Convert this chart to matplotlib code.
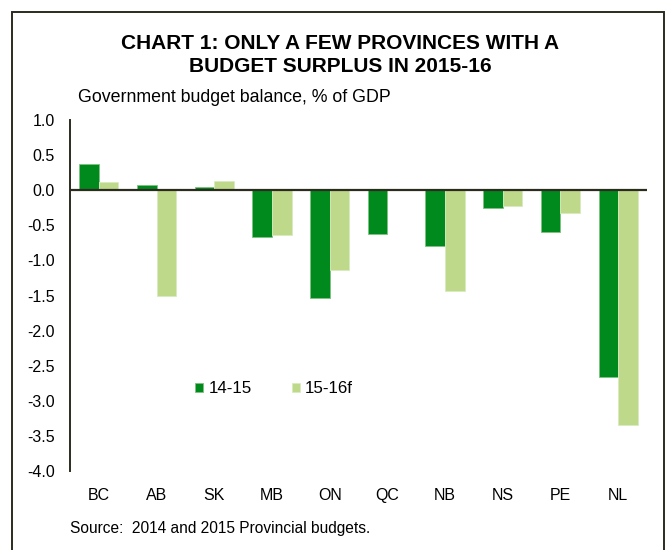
import matplotlib.pyplot as plt
import numpy as np
from matplotlib.patches import Rectangle

plt.rcParams['font.family'] = ['Liberation Sans', 'DejaVu Sans']

provinces = ['BC', 'AB', 'SK', 'MB', 'ON', 'QC', 'NB', 'NS', 'PE', 'NL']
fy1415 = [0.37, 0.07, 0.05, -0.67, -1.53, -0.63, -0.79, -0.25, -0.59, -2.66]
fy1516 = [0.12, -1.50, 0.13, -0.64, -1.14, 0.0, -1.43, -0.23, -0.32, -3.35]
yticks = [1.0, 0.5, 0.0, -0.5, -1.0, -1.5, -2.0, -2.5, -3.0, -3.5, -4.0]

dark = '#008A1E'
light = '#BED98A'
axcol = '#2B2B1E'

fig = plt.figure(figsize=(6.68, 5.5), dpi=100)
ax = fig.add_axes([70/668, 1-471/550, 577/668, 351/550])

x = np.arange(len(provinces))
w = 0.34
ax.bar(x - w/2, fy1415, w, color=dark, edgecolor='#7DC27F', linewidth=0.6, label='14-15')
ax.bar(x + w/2, fy1516, w, color=light, edgecolor='#D8EBC0', linewidth=0.6, label='15-16f')

ax.set_xlim(-0.5, len(provinces) - 0.5)
ax.set_ylim(-4.0, 1.0)
ax.set_yticks(yticks)
ax.set_yticklabels(['%.1f' % v for v in yticks])
ax.set_xticks(x)
ax.set_xticklabels(provinces)
ax.axhline(0, color=axcol, linewidth=1.6, zorder=3)
for s in ['top', 'right', 'bottom']:
    ax.spines[s].set_visible(False)
ax.spines['left'].set_color(axcol)
ax.spines['left'].set_linewidth(1.4)
ax.tick_params(axis='both', length=0, labelsize=11.5, colors='black')
ax.tick_params(axis='x', pad=12)
ax.tick_params(axis='y', pad=11)

ax.legend(loc='center left', bbox_to_anchor=(0.19, 0.234), ncol=2, frameon=False,
          fontsize=12.2, handlelength=0.5, handleheight=0.5, handletextpad=0.3,
          columnspacing=2.35)

fig.text(340/668, 1-43.7/550, 'CHART 1: ONLY A FEW PROVINCES WITH A', ha='center', va='center',
         fontsize=15, fontweight='bold')
fig.text(340/668, 1-66.5/550, 'BUDGET SURPLUS IN 2015-16', ha='center', va='center',
         fontsize=15, fontweight='bold')
fig.text(78/668, 1-98/550, 'Government budget balance, % of GDP', ha='left', va='center', fontsize=12.8)
fig.text(70/668, 1-529/550, 'Source:  2014 and 2015 Provincial budgets.', ha='left', va='center', fontsize=11.2)

fig.patches.append(Rectangle((12/668, -0.05), 652/668, 1.05 - 12/550, transform=fig.transFigure,
                             fill=False, edgecolor=axcol, linewidth=1.4))

fig.savefig('out.png', dpi=100)
